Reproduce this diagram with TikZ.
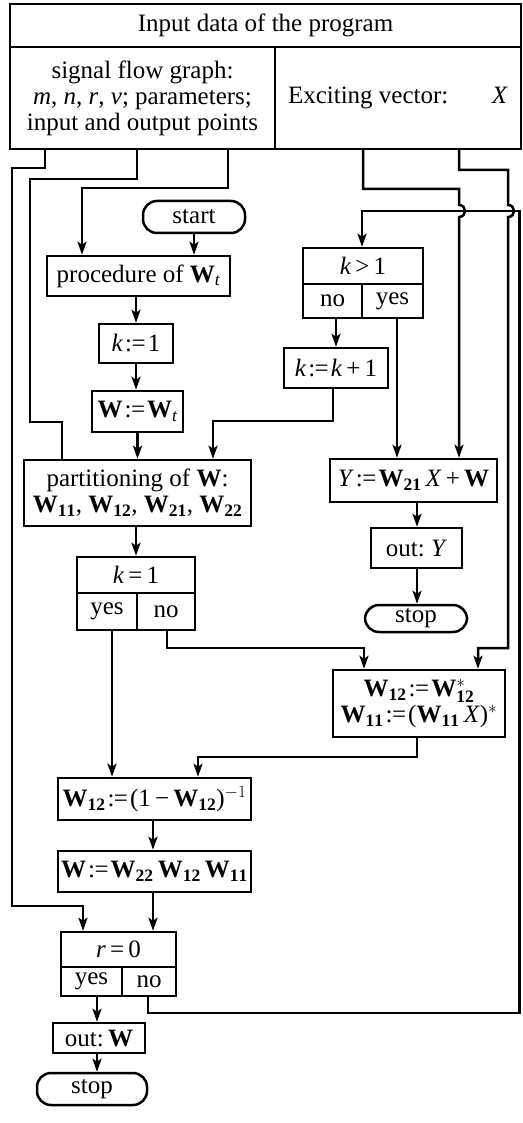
\documentclass[tikz,border=0pt]{standalone}
\usepackage{fontspec}
\setmainfont{Liberation Serif}
\usetikzlibrary{arrows.meta}
\newcommand\fsz{\fontsize{25}{26}\selectfont}
\newcommand\Wb{$\mathbf{W}$}
\newcommand\Wsub[1]{$\mathbf{W}_{\mathbf{#1}}$}
\newcommand\asg{\kern2pt:\kern-0.5pt=\kern2pt}
\begin{document}
\begin{tikzpicture}[x=1pt,y=-1pt,
  ln/.style={line width=2.5pt},
  ar/.style={line width=2.5pt,-{Stealth[length=13pt,width=9pt,inset=3pt]}},
  blk/.style={draw,line width=2.5pt,inner sep=0pt,align=center,font=\fsz},
  term/.style={blk,rounded corners=14pt}]
\useasboundingbox (0,0) rectangle (522,1123);
% input data
\node[blk,minimum width=511pt,minimum height=43pt] (title) at (265.5,25.5) {Input data of the program};
\node[blk,minimum width=265pt,minimum height=102pt] (sfg) at (142.5,98) {signal flow graph:\\ \textit{m}, \textit{n}, \textit{r}, \textit{v}; parameters;\\ input and output points};
\node[blk,minimum width=246pt,minimum height=102pt] (exc) at (398,98) {\makebox[220pt][l]{Exciting vector:\hfill\textit{X}}};
% left column
\node[term,minimum width=102pt,minimum height=32pt] (start) at (194,217) {start};
\node[blk,minimum width=183pt,minimum height=40pt] (proc) at (138.5,276) {procedure of $\mathbf{W}_{\mathit{t}}$};
\node[blk,minimum width=74pt,minimum height=39pt] (kone) at (136,343.5) {\textit{k}\asg 1};
\node[blk,minimum width=91pt,minimum height=41pt] (wset) at (137.5,411.5) {\Wb\asg$\mathbf{W}_{\mathit{t}}$};
\node[blk,minimum width=227pt,minimum height=66pt] (part) at (137.5,493) {partitioning of \Wb:\\ \Wsub{11}, \Wsub{12}, \Wsub{21}, \Wsub{22}};
\node[blk,minimum width=118pt,minimum height=36pt] (kq) at (136,575) {\textit{k}\,=\,1};
\node[blk,minimum width=60pt,minimum height=37pt] (ky) at (107,611.5) {yes};
\node[blk,minimum width=58pt,minimum height=37pt] (kn) at (166,611.5) {no};
\node[blk,minimum width=172pt,minimum height=67pt] (wstar) at (419,703.5) {$\mathbf{W}_{\mathbf{12}}$\asg$\mathbf{W}_{\mathbf{12}}^{*}$\\ \Wsub{11}\asg(\Wsub{11}\,\textit{X})$^{*}$};
\node[blk,minimum width=193pt,minimum height=42pt] (winv) at (154.5,799) {\Wsub{12}\asg(1\,−\,\Wsub{12})$^{-1}$};
\node[blk,minimum width=193pt,minimum height=41pt] (wprod) at (154.5,871.5) {\Wb\asg\Wsub{22}\,\Wsub{12}\,\Wsub{11}};
\node[blk,minimum width=115pt,minimum height=35pt] (rq) at (118.5,949.5) {\textit{r}\,=\,0};
\node[blk,minimum width=61pt,minimum height=29pt] (ry) at (91.5,981.5) {yes};
\node[blk,minimum width=54pt,minimum height=29pt] (rn) at (149,981.5) {no};
\node[blk,minimum width=92pt,minimum height=30pt] (outw) at (99,1038) {out:\,\Wb};
\node[term,minimum width=110pt,minimum height=32pt] (stopa) at (92,1089) {stop};
% right column
\node[blk,minimum width=120pt,minimum height=36pt] (gq) at (363,266) {\textit{k}\,>\,1};
\node[blk,minimum width=59pt,minimum height=34pt] (gn) at (332.5,301) {no};
\node[blk,minimum width=61pt,minimum height=34pt] (gy) at (392.5,301) {yes};
\node[blk,minimum width=104pt,minimum height=40pt] (kinc) at (336,368) {\textit{k}\asg\textit{k}\,+\,1};
\node[blk,minimum width=167pt,minimum height=43pt] (yset) at (413.5,480.5) {\textit{Y}\asg\Wsub{21}\,\textit{X}\,+\,\Wb};
\node[blk,minimum width=91pt,minimum height=40pt] (outy) at (416.5,548) {out:\ \textit{Y}};
\node[term,minimum width=102pt,minimum height=27pt] (stopb) at (416,618.5) {stop};
% connectors
\draw[ar] (sfg.south -| 45,0) |- (12,168) |- (83,906) -- (rq.north -| 83,0);
\draw[ln] (sfg.south -| 137,0) |- (30,179) |- (62,422) -- (part.north -| 62,0);
\draw[ar] (sfg.south -| 228,0) |- (82,188) -- (proc.north -| 82,0);
\draw[ar] (exc.south -| 363,0) |- (459,189) -- (459,205) .. controls (467,205) and (467,217) .. (459,217) -- (yset.north -| 459,0);
\draw[ar] (exc.south -| 459,0) |- (508,170) -- (508,205) .. controls (516,205) and (516,217) .. (508,217) |- (478,648) -- (wstar.north -| 478,0);
\draw[ar] (start) -- (proc.north -| start);
\draw[ar] (proc.south -| kone.north) -- (kone.north);
\draw[ar] (kone.south) -- (kone.south |- wset.north);
\draw[ar] (wset.south) -- (wset.south |- part.north);
\draw[ar] (kinc.south -| 333,0) |- (213,421) -- (part.north -| 213,0);
\draw[ar] (part.south -| kq.north) -- (kq.north);
\draw[ar] (ky.south -| 112,0) -- (winv.north -| 112,0);
\draw[ar] (kn.south -| 167,0) |- (364,648) -- (wstar.north -| 364,0);
\draw[ar] (wstar.south -| 417,0) |- (198,757) -- (winv.north -| 198,0);
\draw[ar] (winv.south -| 153,0) -- (wprod.north -| 153,0);
\draw[ar] (wprod.south -| 153,0) -- (rq.north -| 153,0);
\draw[ar] (ry.south -| 97,0) -- (outw.north -| 97,0);
\draw[ar] (rn.south -| 148,0) |- (519.5,1013) |- (362,211) -- (gq.north -| 362,0);
\draw[ar] (outw.south -| 97,0) -- (stopa.north -| 97,0);
\draw[ar] (gn.south -| 336,0) -- (kinc.north -| 336,0);
\draw[ar] (gy.south -| 397,0) -- (yset.north -| 397,0);
\draw[ar] (yset.south -| 417,0) -- (outy.north -| 417,0);
\draw[ar] (outy.south -| 417,0) -- (stopb.north -| 417,0);
\end{tikzpicture}
\end{document}
